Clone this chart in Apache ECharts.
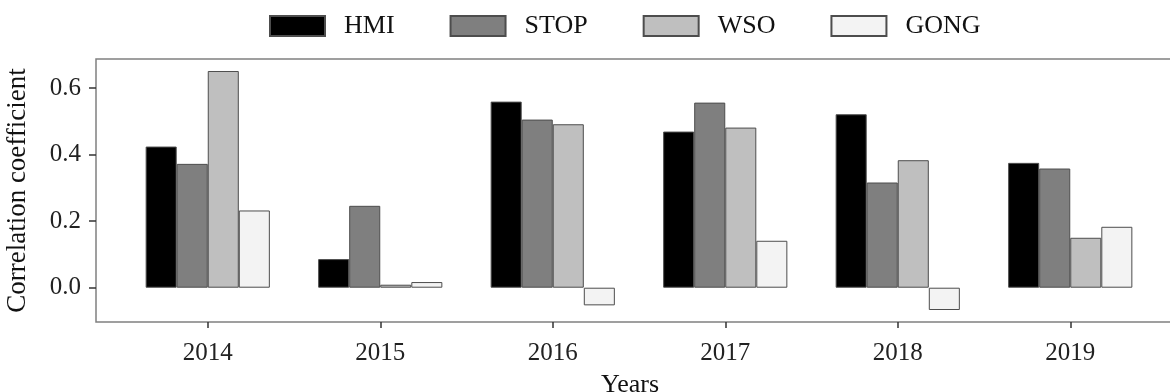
<!DOCTYPE html>
<html>
<head>
<meta charset="utf-8">
<script src="https://cdn.jsdelivr.net/npm/echarts@6/dist/echarts.min.js"></script>
<style>
  html, body { margin: 0; padding: 0; background: #ffffff; }
  #chart { width: 1170px; height: 392px; }
</style>
</head>
<body>
<div id="chart"></div>
<script>
// Correlation coefficients per year for each magnetogram source
const years = ['2014', '2015', '2016', '2017', '2018', '2019'];
const hmi  = [0.424, 0.086, 0.559, 0.469, 0.521, 0.375];
const stop = [0.372, 0.246, 0.505, 0.556, 0.316, 0.358];
const wso  = [0.651, 0.009, 0.491, 0.481, 0.383, 0.150];
const gong = [0.232, 0.017, -0.053, 0.141, -0.067, 0.183];
const yTicks = [0, 0.2, 0.4, 0.6];

const seriesDefs = [
  { name: 'HMI',  data: hmi,  color: '#000000' },
  { name: 'STOP', data: stop, color: '#7f7f7f' },
  { name: 'WSO',  data: wso,  color: '#bfbfbf' },
  { name: 'GONG', data: gong, color: '#f3f3f3' }
];

const FONT = '"Liberation Serif", "DejaVu Serif", serif';
const Y_MIN = -0.103, Y_MAX = 0.687;

const chart = echarts.init(document.getElementById('chart'), null, { renderer: 'canvas' });

chart.setOption({
  animation: false,
  backgroundColor: '#ffffff',
  legend: {
    left: 269,
    top: 13,
    padding: 0,
    itemWidth: 55,
    itemHeight: 20,
    itemGap: 55,
    icon: 'rect',
    textStyle: { fontFamily: FONT, fontSize: 26, color: '#111111', padding: [0, 0, 0, 14] },
    data: seriesDefs.map(s => s.name)
  },
  grid: [
    // panel frame with the value axis
    { left: 96, right: -8, top: 59, bottom: 70, outerBoundsMode: 'none', containLabel: false,
      show: true, borderColor: '#808080', borderWidth: 1.5 },
    // bar area: category centres spaced across the panel
    { left: 121.5, right: 13.5, top: 59, bottom: 70, outerBoundsMode: 'none', containLabel: false }
  ],
  xAxis: [
    {
      gridIndex: 0, type: 'value', min: 0, max: 1,
      axisLine: { show: false }, axisTick: { show: false }, axisLabel: { show: false }, splitLine: { show: false },
      name: 'Years', nameLocation: 'middle', nameGap: 50,
      nameTextStyle: { fontFamily: FONT, fontSize: 26, color: '#111111', padding: [0, 14, 0, 0] }
    },
    {
      gridIndex: 1, type: 'category', data: years,
      axisLine: { show: false, onZero: false },
      axisTick: { show: true, alignWithLabel: true, length: 6, lineStyle: { color: '#333333', width: 1.5 } },
      axisLabel: { fontFamily: FONT, fontSize: 25, color: '#222222', margin: 19 }
    }
  ],
  yAxis: [
    {
      gridIndex: 0, type: 'value', min: Y_MIN, max: Y_MAX,
      axisLine: { show: false },
      axisTick: { show: true, length: 7, customValues: yTicks, lineStyle: { color: '#333333', width: 1.5 } },
      axisLabel: {
        fontFamily: FONT, fontSize: 25, color: '#222222', margin: 15,
        customValues: yTicks,
        formatter: v => v.toFixed(1)
      },
      splitLine: { show: false },
      name: 'Correlation coefficient', nameLocation: 'middle', nameGap: 65, nameRotate: 90,
      nameTextStyle: { fontFamily: FONT, fontSize: 27, color: '#111111' }
    },
    {
      gridIndex: 1, type: 'value', min: Y_MIN, max: Y_MAX, show: false, splitLine: { show: false }
    }
  ],
  series: seriesDefs.map(s => ({
    name: s.name,
    type: 'bar',
    xAxisIndex: 1,
    yAxisIndex: 1,
    data: s.data,
    barGap: '0%',
    barCategoryGap: '28%',
    itemStyle: { color: s.color, borderColor: '#4d4d4d', borderWidth: 1 }
  }))
});
</script>
</body>
</html>
